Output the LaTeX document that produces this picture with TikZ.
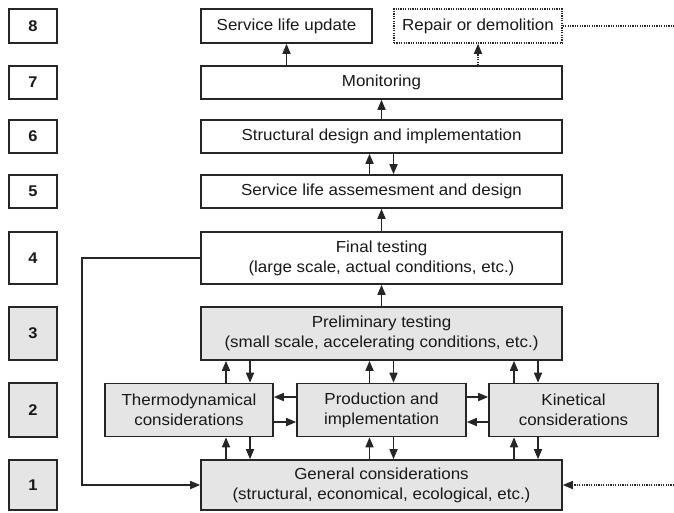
\documentclass[tikz,border=0pt]{standalone}
\usepackage{fontspec}
\setmainfont{Liberation Sans}[FakeStretch=1.06]
\usetikzlibrary{arrows.meta,calc}
\begin{document}
\begin{tikzpicture}[x=1pt,y=-1pt,
  box/.style={draw=black!85, line width=1.6pt, fill=white, inner sep=0pt, align=center,
    font=\fontsize{16}{20}\selectfont, text=black!90},
  gbox/.style={box, fill=black!10},
  numbox/.style={box, minimum width=48pt, font=\fontsize{15.5}{18}\selectfont\bfseries},
  arr/.style={draw=black!85, line width=1.6pt, -{Triangle[length=10pt,width=8pt]}},
  dotline/.style={draw=black!85, line width=1.6pt, dash pattern=on 1.2pt off 1.2pt}]
\useasboundingbox (0,0) rectangle (674,512);
% level numbers
\node[numbox, minimum height=34pt] (n8) at (33,26) {8};
\node[numbox, minimum height=33pt] (n7) at (33,82.5) {7};
\node[numbox, minimum height=33pt] (n6) at (33,136.5) {6};
\node[numbox, minimum height=33pt] (n5) at (33,191.5) {5};
\node[numbox, minimum height=52pt] (n4) at (33,258) {4};
\node[numbox, fill=black!10, minimum height=53pt] (n3) at (33,333.5) {3};
\node[numbox, fill=black!10, minimum height=54pt] (n2) at (33,410) {2};
\node[numbox, fill=black!10, minimum height=50pt] (n1) at (33,485) {1};
% main boxes
\node[box, minimum width=171pt, minimum height=34pt] (slu) at (286.5,26) {Service life update};
\node[box, dotline, minimum width=168pt, minimum height=34pt] (rep) at (478,26) {Repair or demolition};
\node[box, minimum width=361pt, minimum height=33pt] (mon) at (381.5,82.5) {Monitoring};
\node[box, minimum width=361pt, minimum height=33pt] (str) at (381.5,136.5) {Structural design and implementation};
\node[box, minimum width=361pt, minimum height=33pt] (sla) at (381.5,191.5) {Service life assemesment and design};
\node[box, minimum width=361pt, minimum height=52pt] (fin) at (381.5,258) {Final testing\\(large scale, actual conditions, etc.)};
\node[gbox, minimum width=361pt, minimum height=53pt] (pre) at (381.5,333.5) {Preliminary testing\\(small scale, accelerating conditions, etc.)};
\node[gbox, minimum width=168pt, minimum height=53pt] (thr) at (189,410) {Thermodynamical\\considerations};
\node[gbox, minimum width=169pt, minimum height=53pt] (prd) at (381.5,410) {Production and\\implementation};
\node[gbox, minimum width=169pt, minimum height=53pt] (kin) at (573.5,410) {Kinetical\\considerations};
\node[gbox, minimum width=361pt, minimum height=50pt] (gen) at (381.5,485) {General considerations\\(structural, economical, ecological, etc.)};
% helper coordinates
\coordinate (xa) at (226,0);
\coordinate (xb) at (250,0);
\coordinate (xc) at (369.5,0);
\coordinate (xd) at (393.5,0);
\coordinate (xe) at (514,0);
\coordinate (xf) at (538,0);
\coordinate (ya) at (0,397);
\coordinate (yb) at (0,422);
\coordinate (lc) at (82,258);
\coordinate (re) at (674,26);
\coordinate (ge) at (674,485);
% top arrows
\draw[arr] (slu.south |- mon.north) -- (slu.south);
\draw[arr, dotline] (rep.south |- mon.north) -- (rep.south);
\draw[arr] (str.north) -- (mon.south);
\draw[arr] (xc |- sla.north) -- (xc |- str.south);
\draw[arr] (xd |- str.south) -- (xd |- sla.north);
\draw[arr] (fin.north) -- (sla.south);
\draw[arr] (pre.north) -- (fin.south);
% level 2 <-> preliminary
\draw[arr] (xa |- thr.north) -- (xa |- pre.south);
\draw[arr] (xb |- pre.south) -- (xb |- thr.north);
\draw[arr] (xc |- prd.north) -- (xc |- pre.south);
\draw[arr] (xd |- pre.south) -- (xd |- prd.north);
\draw[arr] (xe |- kin.north) -- (xe |- pre.south);
\draw[arr] (xf |- pre.south) -- (xf |- kin.north);
% general <-> level 2
\draw[arr] (xa |- gen.north) -- (xa |- thr.south);
\draw[arr] (xb |- thr.south) -- (xb |- gen.north);
\draw[arr] (xc |- gen.north) -- (xc |- prd.south);
\draw[arr] (xd |- prd.south) -- (xd |- gen.north);
\draw[arr] (xe |- gen.north) -- (xe |- kin.south);
\draw[arr] (xf |- kin.south) -- (xf |- gen.north);
% horizontal level 2
\draw[arr] (prd.west |- ya) -- (thr.east |- ya);
\draw[arr] (thr.east |- yb) -- (prd.west |- yb);
\draw[arr] (prd.east |- ya) -- (kin.west |- ya);
\draw[arr] (kin.west |- yb) -- (prd.east |- yb);
% feedback lines
\draw[arr] (fin.west) -- (lc) |- (gen.west);
\draw[dotline] (rep.east) -- (re);
\draw[arr, dotline] (ge) -- (gen.east);
\end{tikzpicture}
\end{document}
